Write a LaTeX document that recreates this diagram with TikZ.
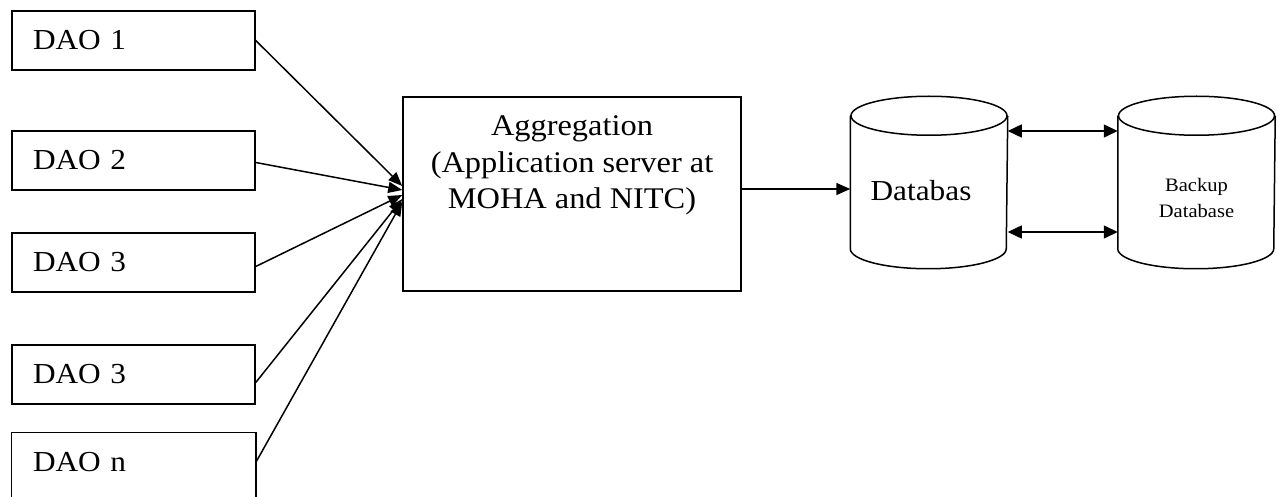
\documentclass[tikz,border=0pt]{standalone}
\usepackage{fontspec}
\setmainfont[FakeStretch=1.08]{Liberation Serif}
\usetikzlibrary{arrows.meta,calc}
\begin{document}
\begin{tikzpicture}[x=1pt,y=-1pt,
  line width=1.5pt,
  daobox/.style={draw, rectangle, minimum width=243pt, minimum height=59pt,
     text width=201pt, inner xsep=21pt, align=left, font=\fontsize{29}{35}\selectfont},
  dbbox/.style={rectangle, draw=none, minimum width=156pt, minimum height=171pt, inner sep=0pt},
  arr/.style={-{Triangle[length=14pt,width=11pt]}},
  arrb/.style={-{Triangle[length=14pt,width=12pt]}},
  darr/.style={{Triangle[length=14pt,width=13pt]}-{Triangle[length=14pt,width=13pt]}}
]
\useasboundingbox (0,0) rectangle (1278,497);
\clip (0,0) rectangle (1278,497);
\fill[white] (0,0) rectangle (1278,497);

% DAO boxes
\node[daobox] (d1) at (133.5,40.5) {DAO 1};
\node[daobox] (d2) at (133.5,160.5) {DAO 2};
\node[daobox] (d3) at (133.5,262.5) {DAO 3};
\node[daobox] (d4) at (133.5,374.5) {DAO 3};
\node[daobox, draw=none] (dn) at (133.5,462.5) {DAO n};
\draw ([yshift=-30pt]dn.south west) -- (dn.north west) -- (dn.north east) -- ([yshift=-30pt]dn.south east);

% Aggregation
\node[draw, rectangle, minimum width=338pt, minimum height=194pt] (agg) at (572,194) {};
\node[align=center, anchor=north, inner sep=0pt, font=\fontsize{30}{36.5}\selectfont] (aggt)
  at ([yshift=-19pt]agg.north) {Aggregation\\(Application server at\\MOHA and NITC)};

% connectors DAO -> Aggregation
\draw[arr] (d1.east) -- ([yshift=8pt]agg.west);
\draw[arr] ([yshift=-2pt]d2.east) -- ([yshift=4pt]agg.west);
\draw[arr] ([yshift=-4pt]d3.east) -- ([yshift=-1pt]agg.west);
\draw[arr] ([yshift=-8pt]d4.east) -- ([yshift=-5pt]agg.west);
\draw[arr] (dn.east) -- ([yshift=-8pt]agg.west);

% Cylinders
\node[dbbox] (db) at (929,182.5) {};
\node[dbbox] (bk) at (1196.5,182.5) {};
\foreach \c in {db,bk}{
  \draw ([yshift=-19.5pt]\c.north) ellipse [x radius=78pt, y radius=19.5pt];
  \draw ([yshift=-19.5pt]\c.north west) -- ([yshift=20pt]\c.south west)
     arc [start angle=180, end angle=360, x radius=78pt, y radius=20pt]
     -- ([yshift=-19.5pt]\c.north east);
}
\node[inner sep=0pt, font=\fontsize{29}{35}\selectfont] (dbt) at (921,191) {Databas};
\node[inner sep=0pt, align=center, font=\fontsize{19}{26.5}\selectfont] (bkt) at (1196.5,198) {Backup\\Database};

% Aggregation -> Database
\coordinate (a1) at ([yshift=5pt]agg.east);
\draw[arrb] (a1) -- (a1 -| db.west);

% Database <-> Backup
\draw[darr] ([yshift=51.5pt]db.east) -- ([yshift=51.5pt]bk.west);
\draw[darr] ([yshift=-49.5pt]db.east) -- ([yshift=-49.5pt]bk.west);
\end{tikzpicture}
\end{document}
